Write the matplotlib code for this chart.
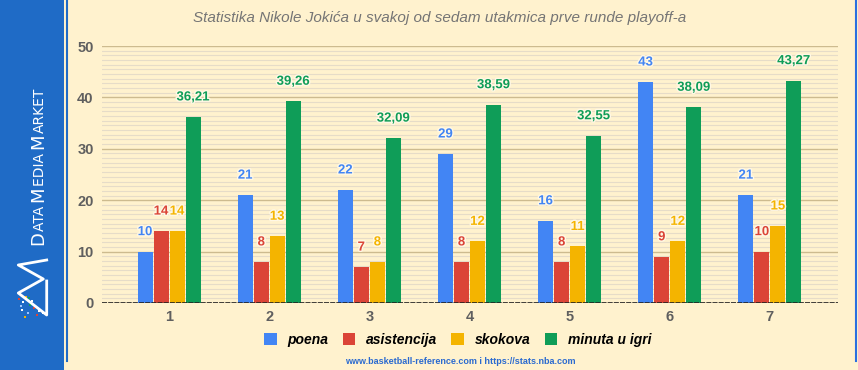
import numpy as np
import matplotlib
matplotlib.use('Agg')
import matplotlib.pyplot as plt
from matplotlib.patches import Rectangle
import matplotlib.patheffects as pe

plt.rcParams['font.family'] = ['Liberation Sans', 'DejaVu Sans']

# podaci
utakmice = ['1', '2', '3', '4', '5', '6', '7']
poena = [10, 21, 22, 29, 16, 43, 21]
asistencija = [14, 8, 7, 8, 8, 9, 10]
skokova = [14, 13, 8, 12, 11, 12, 15]
minuta = [36.21, 39.26, 32.09, 38.59, 32.55, 38.09, 43.27]
serije = ['poena', 'asistencija', 'skokova', 'minuta u igri']
boje = ['#4285F4', '#DB4437', '#F4B400', '#0F9D58']

bg = '#FFF2CE'
fig = plt.figure(figsize=(8.58, 3.70), dpi=100, facecolor=bg)

# lijevi plavi panel i okvir
fig.patches.append(Rectangle((0, 0), 64/858, 1, transform=fig.transFigure,
                             facecolor='#1F6BC6', edgecolor='none', zorder=0))
fig.lines.append(plt.Line2D([66.5/858, 66.5/858], [1, 1-361/370], transform=fig.transFigure,
                            color='#1F6BC6', lw=1.5))
fig.lines.append(plt.Line2D([856/858, 856/858], [1, 1-361/370], transform=fig.transFigure,
                            color='#2A6FE0', lw=1.5))

# "Data Media Market" u small caps, komad po komad odozdo prema gore
dijelovi = [('D', 13), ('ATA ', 10), ('M', 13), ('EDIA ', 10), ('M', 13), ('ARKET', 10)]
renderer = fig.canvas.get_renderer()
y0 = 1 - 245/370
for s, fs in dijelovi:
    t = fig.text(47/858, y0, s, rotation=90, color='white', fontsize=fs,
                 ha='right', va='bottom', family=['DejaVu Sans'])
    y0 += t.get_window_extent(renderer).height / fig.bbox.height

# logo
lx = np.array([46.7, 18.3, 43.3, 18.3, 46.7, 46.7]) / 858
ly = 1 - np.array([260, 265, 279, 293, 315, 281]) / 370
fig.lines.append(plt.Line2D(lx, ly, transform=fig.transFigure, color='white', lw=2))
tx = [18, 22, 25, 29, 21, 33, 27, 38, 24, 31, 36, 42, 20, 28]
ty = [300, 303, 298, 306, 311, 309, 314, 312, 318, 302, 316, 314, 307, 299]
tc = ['#DB4437', '#ffffff', '#F4B400', '#0F9D58', '#ffffff', '#DB4437', '#9ec5ff',
      '#ffffff', '#F4B400', '#ffffff', '#DB4437', '#ffffff', '#9ec5ff', '#0F9D58']
for x_, y_, c_ in zip(tx, ty, tc):
    fig.patches.append(Rectangle((x_/858, 1-y_/370), 2/858, 2/370, transform=fig.transFigure,
                                 facecolor=c_, edgecolor='none'))

ax = fig.add_axes([102/858, 67/370, 736/858, 257/370])
ax.set_facecolor(bg)

x = np.arange(1, 8)
podaci = [poena, asistencija, skokova, minuta]
sirina = 0.15
for i, (vals, boja) in enumerate(zip(podaci, boje)):
    pos = x + (i - 1.5) * 0.16
    ax.bar(pos, vals, width=sirina, color=boja, zorder=3, label=serije[i])
    for px, v in zip(pos, vals):
        txt = ('%.2f' % v).replace('.', ',') if i == 3 else str(v)
        ax.annotate(txt, (px, v), xytext=(0, 14), textcoords='offset points',
                    ha='center', va='center', color=boja, fontsize=9.5,
                    fontweight='bold', zorder=4,
                    path_effects=[pe.withStroke(linewidth=2, foreground='#FFF8E6')])

ax.set_xlim(0.33, 7.68)
ax.set_ylim(0, 50)
ax.set_yticks([0, 10, 20, 30, 40, 50])
ax.set_yticks(np.linspace(0, 50, 56), minor=True)
ax.set_xticks(x)
ax.set_xticklabels(utakmice)
ax.grid(axis='y', which='major', color='#CDBB8F', lw=1, zorder=1)
ax.grid(axis='y', which='minor', color='#E6DCC8', lw=0.8, zorder=1)
ax.axhline(0, color='#222222', lw=1.2, ls=(0, (3, 0.7)), zorder=4)
for s in ax.spines.values():
    s.set_visible(False)
ax.tick_params(axis='both', which='both', length=0)
ax.tick_params(axis='y', pad=6)
ax.tick_params(axis='x', pad=5)
for t in ax.get_yticklabels() + ax.get_xticklabels():
    t.set_fontweight('bold')
    t.set_color('#5F5F5F')
    t.set_fontsize(10.5)

fig.text(440/858, 1-18/370, 'Statistika Nikole Jokića u svakoj od sedam utakmica prve runde playoff-a',
         ha='center', va='center', fontsize=11, style='italic', color='#757575')

fig.legend(loc='center', bbox_to_anchor=(458/858, 1-340/370), ncol=4, frameon=False,
           handlelength=0.9, handleheight=0.9, handletextpad=0.8, columnspacing=1.0,
           prop={'weight': 'bold', 'style': 'italic', 'size': 10})

fig.text(460/858, 1-362/370, 'www.basketball-reference.com i https://stats.nba.com',
         ha='center', va='center', fontsize=6.5, fontweight='bold', color='#2A6AD0')

fig.savefig('out.png', dpi=100, facecolor=bg)
